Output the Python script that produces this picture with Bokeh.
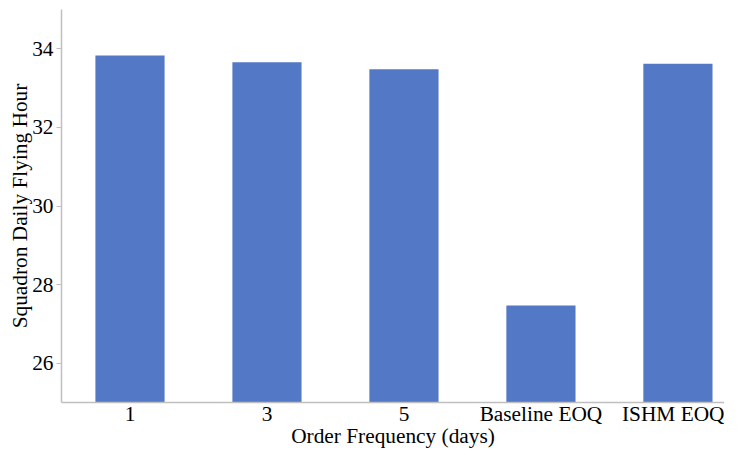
from bokeh.plotting import figure
from bokeh.models import Range1d, FixedTicker, ColumnDataSource
from bokeh.embed import file_html
from bokeh.resources import INLINE

categories = ["1", "3", "5", "Baseline EOQ", "ISHM EOQ"]
flying_hours = [33.83, 33.66, 33.48, 27.47, 33.62]
y_ticks = [26, 28, 30, 32, 34]

FONT = "Liberation Serif"
BAR_COLOR = "#5378C6"
AXIS_COLOR = "#BFBFBF"

xs = list(range(len(categories)))
src = ColumnDataSource(dict(x=xs, top=flying_hours))

p = figure(width=719, height=450, output_backend="svg", toolbar_location=None,
           x_range=Range1d(-0.5, 4.34), y_range=Range1d(25, 35),
           min_border_left=40, min_border_right=0, min_border_top=9, min_border_bottom=30)
p.margin = (0, 0, 0, 5)
p.vbar(x="x", top="top", bottom=25, width=0.505, source=src, color=BAR_COLOR, line_color=None)

p.xgrid.visible = False
p.ygrid.visible = False
p.outline_line_color = None

p.xaxis.ticker = FixedTicker(ticks=xs)
p.xaxis.major_label_overrides = {i: c for i, c in zip(xs, categories)}
p.xaxis.major_tick_line_color = None
p.xaxis.minor_tick_line_color = None
p.xaxis.axis_label = "Order Frequency (days)"

p.yaxis.ticker = FixedTicker(ticks=y_ticks)
p.yaxis.minor_tick_line_color = None
p.yaxis.major_tick_in = 0
p.yaxis.major_tick_out = 5
p.yaxis.major_tick_line_color = AXIS_COLOR
p.yaxis.axis_label = "Squadron Daily Flying Hour"

for ax in (p.xaxis[0], p.yaxis[0]):
    ax.axis_line_color = AXIS_COLOR
    ax.axis_line_width = 1.5
    ax.major_label_text_font = FONT
    ax.major_label_text_font_size = "16pt"
    ax.major_label_text_color = "#000000"
    ax.axis_label_text_font = FONT
    ax.axis_label_text_font_size = "16pt"
    ax.axis_label_text_font_style = "normal"
    ax.axis_label_text_color = "#000000"

p.xaxis.major_label_standoff = -7
p.xaxis.axis_label_standoff = -5
p.yaxis.major_label_standoff = 3
p.yaxis.axis_label_standoff = -3

open("out.html", "w").write(file_html(p, INLINE))
